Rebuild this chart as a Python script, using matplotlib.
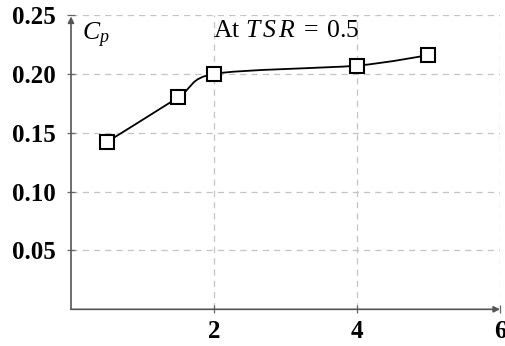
import numpy as np
import matplotlib
matplotlib.use("Agg")
import matplotlib.pyplot as plt
from matplotlib.path import Path
from matplotlib.patches import PathPatch

plt.rcParams["font.family"] = ["Liberation Serif", "DejaVu Serif"]
plt.rcParams["mathtext.fontset"] = "custom"
plt.rcParams["mathtext.rm"] = "Liberation Serif"
plt.rcParams["mathtext.it"] = "Liberation Serif:italic"

# data
tsr = [0.5, 1.5, 2.0, 4.0, 5.0]
cp = [0.142, 0.180, 0.200, 0.207, 0.216]
xticks = [2, 4, 6]
yticks = [0.05, 0.10, 0.15, 0.20, 0.25]
ytick_labels = ["0.05", "0.10", "0.15", "0.20", "0.25"]


def smooth_path(xs, ys, tension=0.14):
    """Cardinal-spline Bezier path through the points."""
    pts = np.column_stack([xs, ys]).astype(float)
    n = len(pts)
    verts = [pts[0]]
    codes = [Path.MOVETO]
    for i in range(n - 1):
        p0 = pts[i]
        p1 = pts[i + 1]
        c1 = p0 if i == 0 else p0 + tension * (pts[i + 1] - pts[i - 1])
        c2 = p1 if i + 1 == n - 1 else p1 - tension * (pts[i + 2] - pts[i])
        verts += [c1, c2, p1]
        codes += [Path.CURVE4] * 3
    return Path(verts, codes)


fig = plt.figure(figsize=(5.06, 3.46), dpi=100)
ax = fig.add_axes([71 / 506, 36.7 / 346, 429 / 506, 294.3 / 346])
ax.set_xlim(0, 6)
ax.set_ylim(0, 0.25)

ax.grid(True, color="#c4c4c4", linestyle=(0, (5, 4)), linewidth=0.9)
ax.set_axisbelow(True)
for s in ax.spines.values():
    s.set_visible(False)

ax.set_xticks(xticks)
ax.set_xticklabels([str(t) for t in xticks])
ax.set_yticks(yticks)
ax.set_yticklabels(ytick_labels)
ax.tick_params(axis="both", direction="inout", length=6, width=0.9,
               color="#666666", labelsize=18)
ax.tick_params(axis="y", pad=8)
ax.tick_params(axis="x", pad=5)
for lab in ax.get_xticklabels() + ax.get_yticklabels():
    lab.set_fontweight("bold")

# axis lines with arrow heads
axis_col = "#555555"
ax.annotate("", xy=(1.0, 0), xytext=(0, 0), xycoords="axes fraction",
            arrowprops=dict(arrowstyle="-|>", color=axis_col, lw=1.2,
                            mutation_scale=9, shrinkA=0, shrinkB=0))
ax.annotate("", xy=(0, 0.995), xytext=(0, 0), xycoords="axes fraction",
            arrowprops=dict(arrowstyle="-|>", color=axis_col, lw=1.2,
                            mutation_scale=9, shrinkA=0, shrinkB=0))

ax.add_patch(PathPatch(smooth_path(tsr, cp), facecolor="none",
                       edgecolor="black", linewidth=1.3, zorder=3))
ax.plot(tsr, cp, linestyle="none", marker="s", markersize=9.5,
        markerfacecolor="white", markeredgecolor="black",
        markeredgewidth=1.5, zorder=4)

ax.text(0.16, 0.2325, r"$C_p$", fontsize=18.5, ha="left", va="center")
ax.text(1.98, 0.2365, r"At $T\,S\,R\;=\;0.5$", fontsize=18.5,
        ha="left", va="center")

fig.savefig("out.png", dpi=100)
